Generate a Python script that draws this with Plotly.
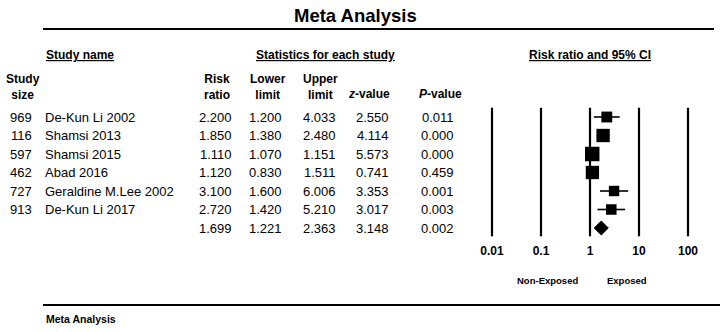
import math
import plotly.graph_objects as go

# ---------------- data ----------------
study_size = ["969", "116", "597", "462", "727", "913"]
study_names = ["De-Kun Li 2002", "Shamsi 2013", "Shamsi 2015", "Abad 2016",
               "Geraldine M.Lee 2002", "De-Kun Li 2017"]
risk_ratio = [2.200, 1.850, 1.110, 1.120, 3.100, 2.720]
lower_limit = [1.200, 1.380, 1.070, 0.830, 1.600, 1.420]
upper_limit = [4.033, 2.480, 1.151, 1.511, 6.006, 5.210]
z_value = [2.550, 4.114, 5.573, 0.741, 3.353, 3.017]
p_value = [0.011, 0.000, 0.000, 0.459, 0.001, 0.003]

summary_rr = 1.699
summary_lower = 1.221
summary_upper = 2.363
summary_z = 3.148
summary_p = 0.002

tick_values = [0.01, 0.1, 1, 10, 100]
tick_labels = ["0.01", "0.1", "1", "10", "100"]

# ---------------- layout helpers ----------------
W, H = 720, 332
FONT = "Liberation Sans, Arial, sans-serif"


def px(x):
    return x / W


def py(y):
    return 1 - y / H


ROW0, ROWSTEP = 117, 18.5
y_top = -ROW0 / ROWSTEP
y_bot = (H - ROW0) / ROWSTEP

n = len(study_names)
rows = list(range(n))
sum_row = n

# random-effects weights -> marker size
se = [(math.log(u) - math.log(l)) / (2 * 1.96) for l, u in zip(lower_limit, upper_limit)]
yi = [math.log(r) for r in risk_ratio]
wf = [1 / s ** 2 for s in se]
mf = sum(w * y for w, y in zip(wf, yi)) / sum(wf)
Q = sum(w * (y - mf) ** 2 for w, y in zip(wf, yi))
C = sum(wf) - sum(w ** 2 for w in wf) / sum(wf)
tau2 = max(0.0, (Q - (n - 1)) / C)
wr = [1 / (s ** 2 + tau2) for s in se]
sizes = [14.5 * math.sqrt(w / max(wr)) for w in wr]

fig = go.Figure()

# vertical reference lines at each decade
vx, vy = [], []
for t in tick_values:
    vx += [t, t, None]
    vy += [-0.5, 6.45, None]
fig.add_trace(go.Scatter(x=vx, y=vy, mode="lines",
                         line=dict(color="black", width=2.2),
                         hoverinfo="skip", showlegend=False))

# study points with CI
fig.add_trace(go.Scatter(
    x=risk_ratio, y=rows, mode="markers",
    marker=dict(symbol="square", size=sizes, color="black", opacity=1,
                line=dict(width=0)),
    error_x=dict(type="data", symmetric=False,
                 array=[u - r for u, r in zip(upper_limit, risk_ratio)],
                 arrayminus=[r - l for r, l in zip(risk_ratio, lower_limit)],
                 color="black", thickness=1.6, width=0),
    showlegend=False))

# summary diamond
dh = 0.38
fig.add_trace(go.Scatter(
    x=[summary_lower, summary_rr, summary_upper, summary_rr, summary_lower],
    y=[sum_row, sum_row - dh, sum_row, sum_row + dh, sum_row],
    mode="lines", fill="toself", fillcolor="black",
    line=dict(color="black", width=1), showlegend=False))

ann = []


def add(text, x, y, size=13, anchor="left", bold=False, yref="paper", color="black"):
    ann.append(dict(text=text, x=x, y=y, xref="paper", yref=yref,
                    xanchor=anchor, yanchor="middle", showarrow=False,
                    font=dict(family=FONT, size=size, color=color,
                              weight="bold" if bold else "normal")))


# title
add("Meta Analysis", px(355), py(15), size=18.5, anchor="center", bold=True)

# group headers
add("<u>Study name</u>", px(44), py(55), size=12, bold=True)
add("<u>Statistics for each study</u>", px(325), py(55), size=12, anchor="center", bold=True)
add("<u>Risk ratio and 95% CI</u>", px(590), py(55), size=12, anchor="center", bold=True)

# column headers
add("Study<br>size", px(4), py(87.5), size=12, bold=True)
add("Risk<br>ratio", px(217), py(87.5), size=12, anchor="center", bold=True)
add("Lower<br>limit", px(268), py(87.5), size=12, anchor="center", bold=True)
add("Upper<br>limit", px(320), py(87.5), size=12, anchor="center", bold=True)
add("<i>z</i>-value", px(369), py(94), size=12, anchor="center", bold=True)
add("<i>P</i>-value", px(440), py(94), size=12, anchor="center", bold=True)

# table body
for i in rows:
    add(study_size[i], px(34), i, anchor="right", yref="y")
    add(study_names[i], px(43), i, yref="y")
    add(f"{risk_ratio[i]:.3f}", px(234), i, anchor="right", yref="y")
    add(f"{lower_limit[i]:.3f}", px(284), i, anchor="right", yref="y")
    add(f"{upper_limit[i]:.3f}", px(338), i, anchor="right", yref="y")
    add(f"{z_value[i]:.3f}", px(391), i, anchor="right", yref="y")
    add(f"{p_value[i]:.3f}", px(456), i, anchor="right", yref="y")

add(f"{summary_rr:.3f}", px(234), sum_row, anchor="right", yref="y")
add(f"{summary_lower:.3f}", px(284), sum_row, anchor="right", yref="y")
add(f"{summary_upper:.3f}", px(338), sum_row, anchor="right", yref="y")
add(f"{summary_z:.3f}", px(391), sum_row, anchor="right", yref="y")
add(f"{summary_p:.3f}", px(456), sum_row, anchor="right", yref="y")

# favour labels
add("Non-Exposed", px(547), py(280), size=9.5, anchor="center", bold=True)
add("Exposed", px(627), py(280), size=9.5, anchor="center", bold=True)

# footer
add("Meta Analysis", px(44), py(319), size=10.5, bold=True)

XL, XR = 470, 710
shapes = [
    dict(type="line", xref="paper", yref="paper", x0=px(43), x1=px(714),
         y0=py(29), y1=py(29), line=dict(color="black", width=2)),
    dict(type="line", xref="paper", yref="paper", x0=px(43), x1=px(720),
         y0=py(305), y1=py(305), line=dict(color="black", width=2)),
]

fig.update_layout(
    width=W, height=H,
    margin=dict(l=0, r=0, t=0, b=0),
    paper_bgcolor="white", plot_bgcolor="white",
    annotations=ann, shapes=shapes,
    xaxis=dict(type="log",
               domain=[px(XL), px(XR)],
               range=[(XL - 590) / 49, (XR - 590) / 49],
               anchor="free", position=py(242),
               tickvals=tick_values, ticktext=tick_labels,
               tickfont=dict(family=FONT, size=12, color="black", weight="bold"),
               showgrid=False, zeroline=False, showline=False, ticks=""),
    yaxis=dict(range=[y_bot, y_top], domain=[0, 1], visible=False,
               showgrid=False, zeroline=False),
    hovermode=False,
)

fig.write_html("out.html",
               config={"displayModeBar": False, "staticPlot": True},
               post_script="document.body.style.margin='0';"
                           "document.body.style.overflow='hidden';")
